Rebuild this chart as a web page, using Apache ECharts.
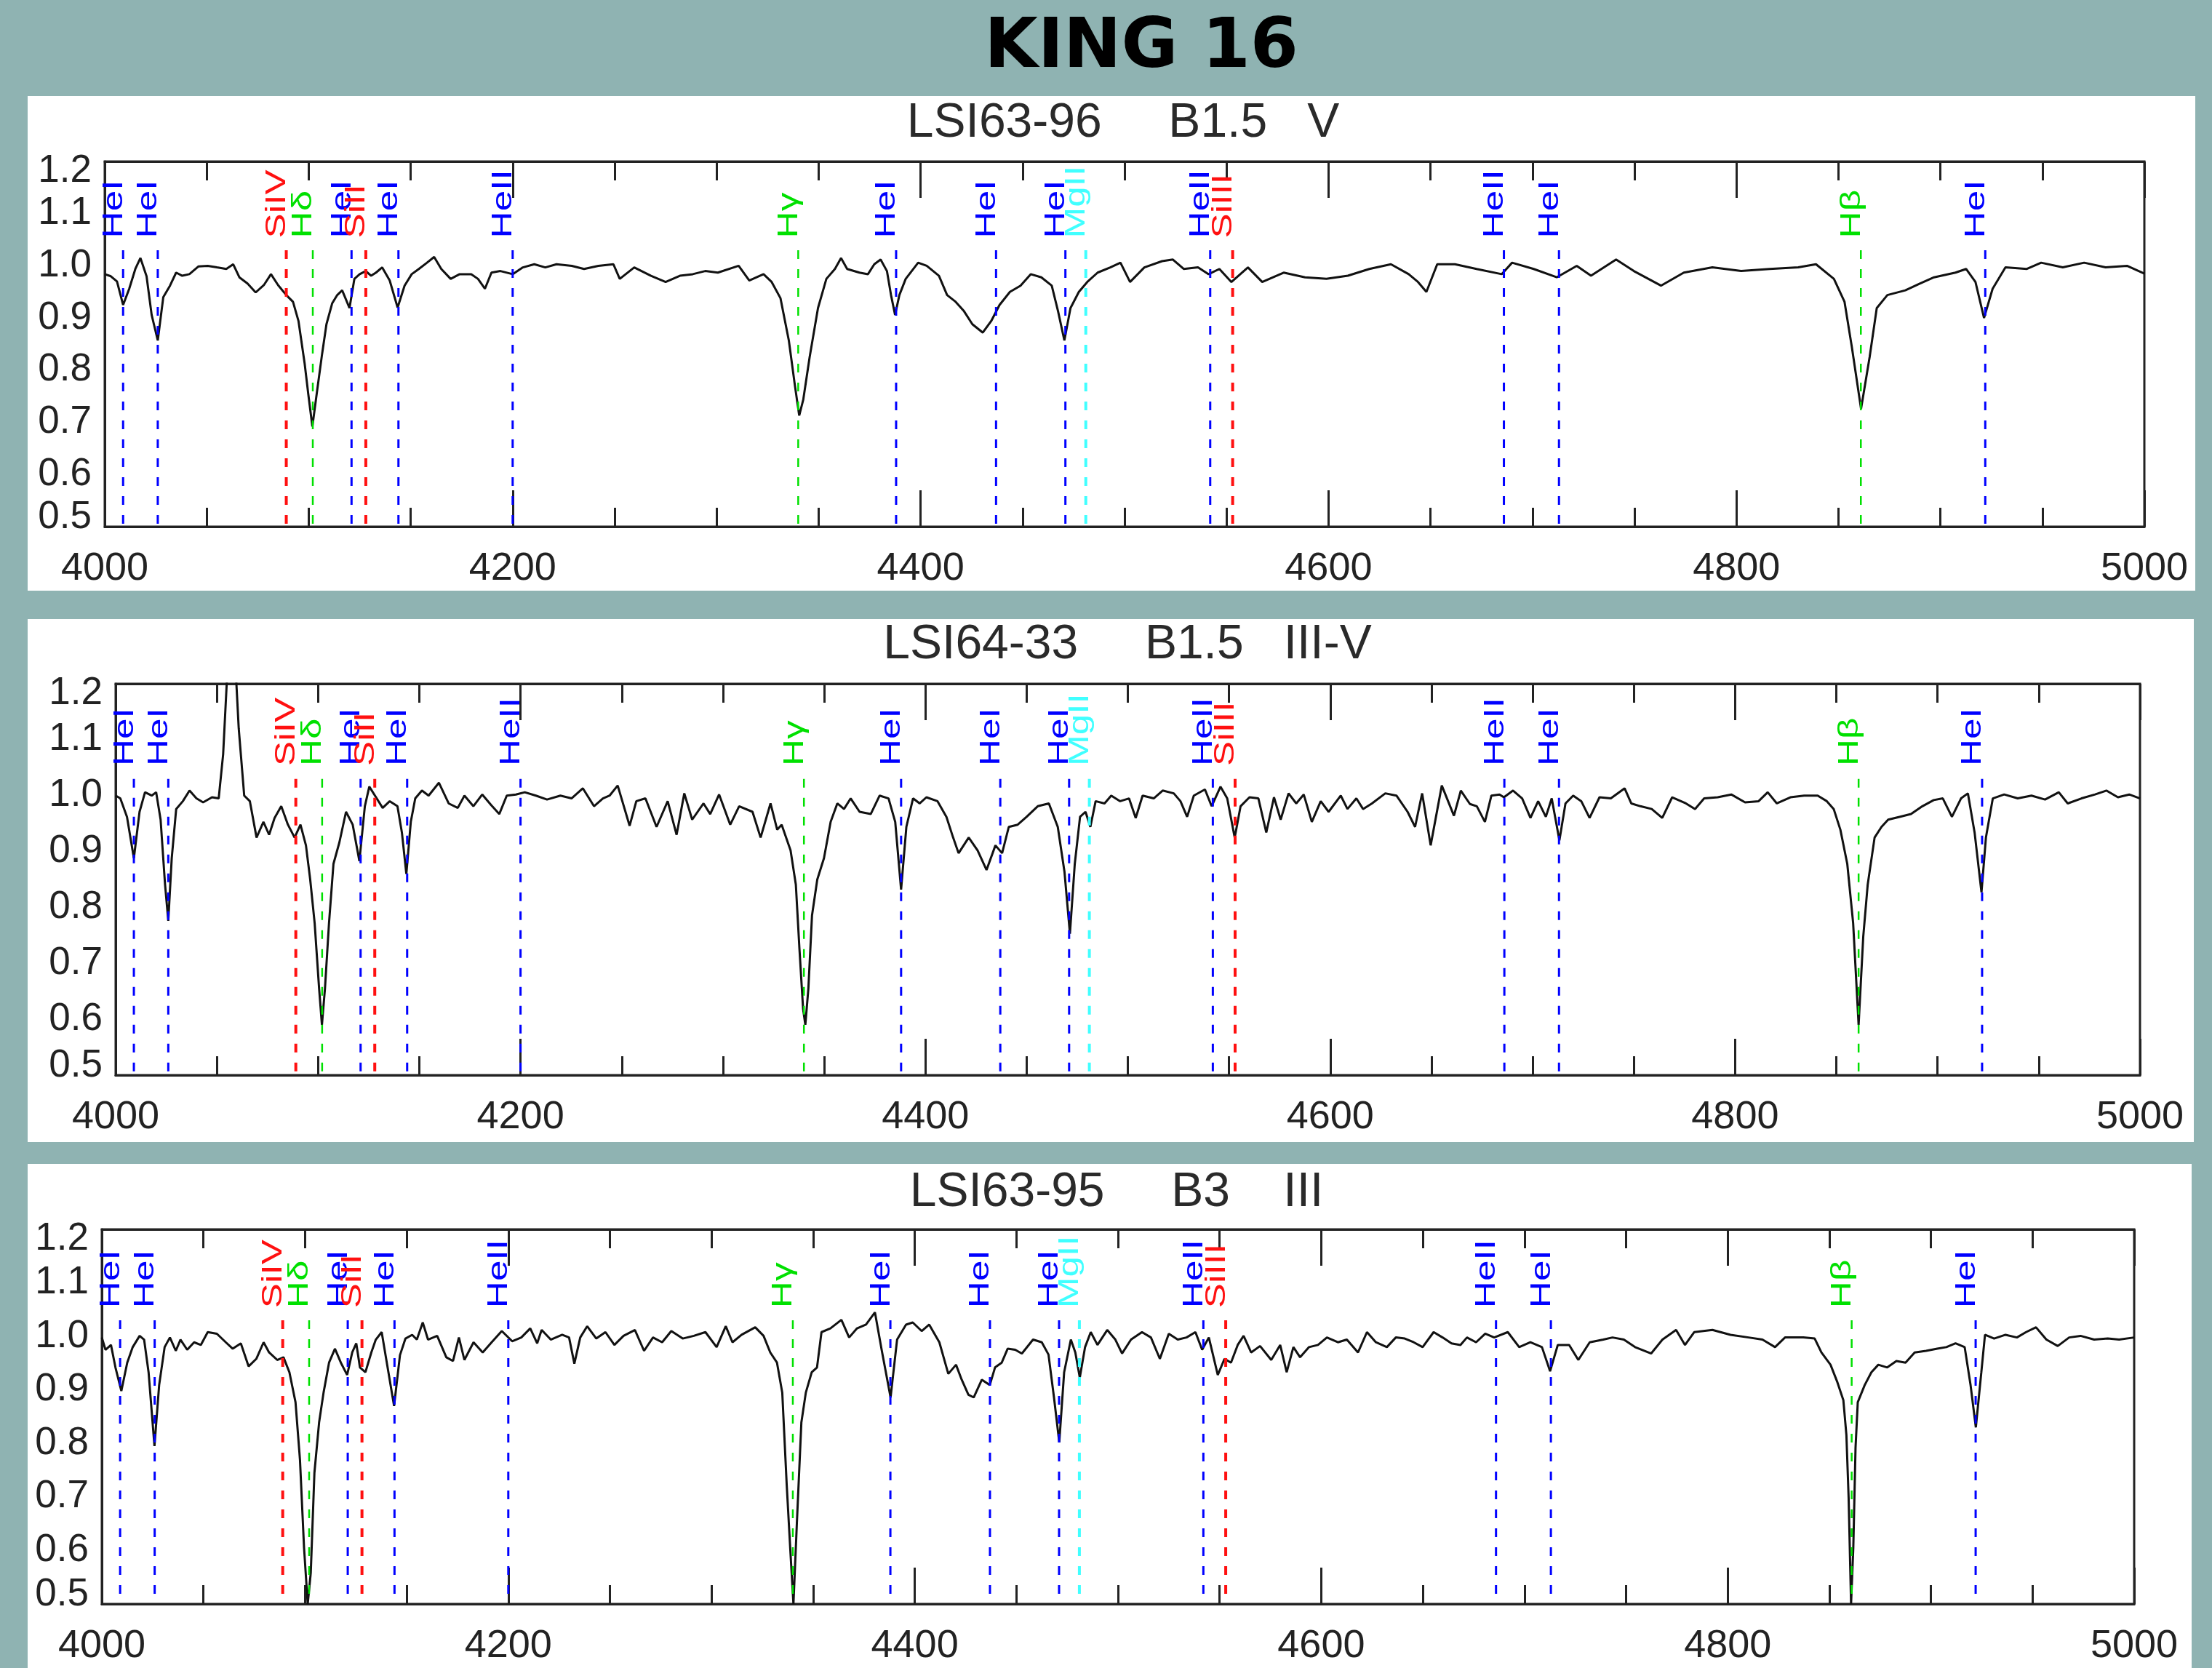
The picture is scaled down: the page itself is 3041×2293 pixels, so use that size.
<!DOCTYPE html>
<html>
<head>
<meta charset="utf-8">
<script src="https://cdn.jsdelivr.net/npm/echarts@6/dist/echarts.min.js"></script>
<style>
  html, body { margin: 0; padding: 0; background: #8fb3b2; }
  #chart { width: 3041px; height: 2293px; }
</style>
</head>
<body>
<div id="chart"></div>
<script>
// ---- data ----
const pageTitle = 'KING 16';
const starTitles = ['LSI63-96     B1.5   V', 'LSI64-33     B1.5   III-V', 'LSI63-95     B3    III'];

const xTickLabels = [4000, 4200, 4400, 4600, 4800, 5000];
const yTickLabels = [0.5, 0.6, 0.7, 0.8, 0.9, 1.0, 1.1, 1.2];

// identified lines (Angstrom)
const lineWaves = [4009, 4026, 4089, 4102, 4121, 4128, 4144, 4200, 4340, 4388, 4437, 4471, 4481, 4542, 4553, 4686, 4713, 4861, 4922];
const lineNames = ['HeI', 'HeI', 'SiIV', 'Hδ', 'HeI', 'SiII', 'HeI', 'HeII', 'Hγ', 'HeI', 'HeI', 'HeI', 'MgII', 'HeII', 'SiIII', 'HeII', 'HeI', 'Hβ', 'HeI'];
const lineKinds = ['he', 'he', 'si', 'h', 'he', 'si', 'he', 'he', 'h', 'he', 'he', 'he', 'mg', 'he', 'si', 'he', 'he', 'h', 'he'];

// normalised spectra [wavelength, flux]
const specLSI6396 = [
  [4000,0.984],[4003,0.98],[4006,0.97],[4009,0.925],[4012,0.956],[4015,0.994],[4017.5,1.015],[4020.5,0.98],[4023,0.906],[4026,0.857],
  [4028.7,0.94],[4032,0.962],[4035,0.987],[4038,0.981],[4041.5,0.984],[4046,0.999],[4050.5,1.0],[4055,0.997],[4059.6,0.994],[4063,1.003],
  [4066,0.978],[4070,0.966],[4074,0.949],[4078,0.963],[4081.5,0.984],[4085,0.963],[4089,0.944],[4092.3,0.931],[4095,0.894],[4098,0.813],
  [4099.7,0.757],[4101.8,0.692],[4104,0.757],[4106.6,0.832],[4108.7,0.888],[4111.5,0.928],[4114,0.944],[4116.4,0.953],[4118,0.938],[4120,0.919],
  [4122.4,0.975],[4125,0.984],[4128,0.99],[4130.6,0.981],[4133,0.987],[4136,0.997],[4139.7,0.972],[4143.6,0.92],[4147,0.962],[4150.5,0.984],
  [4154,0.994],[4158,1.006],[4161.5,1.017],[4165,0.994],[4169.6,0.975],[4174,0.984],[4179.7,0.984],[4183,0.975],[4186.4,0.956],[4189.6,0.987],
  [4194,0.99],[4200,0.984],[4205,0.997],[4210.6,1.003],[4216,0.997],[4221.5,1.003],[4229,1.0],[4235,0.994],[4242,1.0],[4249.4,1.003],
  [4252.5,0.975],[4259.6,0.997],[4267.8,0.981],[4275,0.969],[4282,0.981],[4288.3,0.984],[4294.4,0.99],[4300.6,0.987],[4310.8,1.0],[4316,0.972],
  [4323,0.984],[4327,0.969],[4331.3,0.938],[4335.4,0.857],[4338.4,0.77],[4340.5,0.713],[4342.5,0.744],[4345.6,0.825],[4349.7,0.919],[4353.8,0.975],
  [4358,0.994],[4361,1.015],[4364,0.994],[4370,0.987],[4374.2,0.984],[4377.3,1.003],[4380.4,1.012],[4383.5,0.99],[4385.5,0.944],[4387.5,0.906],
  [4389.6,0.944],[4392.7,0.975],[4398.8,1.006],[4403,1.0],[4409,0.981],[4413,0.944],[4417.2,0.931],[4421.3,0.913],[4425.4,0.888],[4430.5,0.872],
  [4434.6,0.894],[4438.7,0.925],[4443.8,0.95],[4449,0.962],[4454,0.984],[4459.2,0.978],[4464.3,0.962],[4467.4,0.913],[4470.5,0.857],[4473.5,0.919],
  [4477.6,0.95],[4481.7,0.969],[4486.8,0.987],[4493,0.997],[4498,1.006],[4502.7,0.969],[4509.7,0.997],[4518.4,1.009],[4523.7,1.012],[4529,0.994],
  [4536,0.997],[4541.2,0.984],[4546.5,0.994],[4552.4,0.969],[4560.5,0.997],[4567.5,0.969],[4578,0.987],[4588.5,0.978],[4599,0.975],[4609.5,0.981],
  [4620,0.994],[4630.6,1.003],[4639.3,0.984],[4643.9,0.969],[4648,0.95],[4653.3,1.003],[4662,1.003],[4672.6,0.994],[4684.9,0.984],[4690,1.006],
  [4700.6,0.994],[4711.9,0.978],[4721.7,1.0],[4728.7,0.981],[4741,1.012],[4749.7,0.99],[4763,0.962],[4774.2,0.987],[4788.2,0.997],[4802.3,0.99],
  [4816.3,0.994],[4830.3,0.997],[4839,1.003],[4847.8,0.975],[4853,0.931],[4856.6,0.844],[4861.1,0.726],[4865.3,0.825],[4868.8,0.919],[4874,0.944],
  [4882.8,0.953],[4889.9,0.966],[4896.9,0.978],[4907.4,0.987],[4912.6,0.994],[4917.2,0.969],[4921.4,0.9],[4925.6,0.956],[4931.9,0.997],[4942.4,0.994],
  [4949.4,1.006],[4960,0.997],[4970.5,1.006],[4981,0.997],[4991.5,1.0],[5000,0.985]
];

const specLSI6433 = [
  [4000,1.0],[4002.3,0.995],[4005.6,0.962],[4009,0.888],[4011.8,0.971],[4014.5,1.006],[4017.8,1.0],[4020,1.006],[4022.2,0.957],[4024.4,0.841],
  [4026,0.776],[4027.7,0.888],[4029.9,0.976],[4033.2,0.99],[4036.5,1.009],[4039.9,0.995],[4043.2,0.988],[4047.6,0.997],[4050.9,0.995],[4053.1,1.074],
  [4055,1.21],[4057,1.3],[4059.5,1.21],[4060.8,1.12],[4063.5,1.0],[4066.3,0.99],[4069.6,0.925],[4073,0.953],[4075.8,0.93],[4078.5,0.96],
  [4081.8,0.981],[4085.1,0.948],[4088.4,0.925],[4091.3,0.948],[4094,0.911],[4096.1,0.85],[4098.3,0.772],[4100.5,0.655],[4101.9,0.59],[4103.4,0.655],
  [4105.4,0.772],[4107.6,0.878],[4110.5,0.916],[4113.8,0.971],[4117.1,0.948],[4120.4,0.883],[4123.1,0.981],[4125.3,1.016],[4128.1,1.0],[4131.9,0.978],
  [4135.4,0.99],[4139.2,0.981],[4141.4,0.934],[4143.6,0.86],[4145.8,0.953],[4148,0.995],[4151.3,1.009],[4154.6,1.0],[4159.7,1.023],[4164.5,0.986],
  [4169,0.978],[4172.3,1.0],[4176.7,0.981],[4181.1,1.002],[4185.5,0.983],[4189.5,0.967],[4193.2,1.0],[4197.7,1.002],[4202.1,1.006],[4207.6,1.0],
  [4213.1,0.993],[4219.7,1.0],[4225.2,0.995],[4230.8,1.013],[4236.3,0.981],[4240.7,0.995],[4244,1.0],[4248,1.018],[4253.9,0.946],[4257.2,0.99],
  [4261.7,0.995],[4267.2,0.944],[4272.7,0.99],[4277.1,0.93],[4280.9,1.004],[4284.8,0.957],[4290.4,0.986],[4293.7,0.967],[4298.1,1.002],[4303.6,0.948],
  [4308,0.981],[4314.6,0.971],[4318.6,0.925],[4323.5,0.986],[4326.8,0.939],[4329,0.948],[4333.4,0.902],[4336,0.841],[4337.8,0.725],[4339.6,0.618],
  [4340.7,0.59],[4342.2,0.655],[4344,0.786],[4346.6,0.85],[4349.9,0.888],[4353.2,0.953],[4356.5,0.986],[4359.8,0.976],[4363.1,0.995],[4367.5,0.971],
  [4373,0.967],[4377.4,1.0],[4381.8,0.995],[4385.1,0.953],[4388,0.832],[4390.6,0.944],[4393.9,0.995],[4397.2,0.986],[4400.5,0.997],[4406,0.99],
  [4410.4,0.962],[4413.7,0.925],[4416.4,0.897],[4421.4,0.925],[4425.8,0.902],[4430.2,0.867],[4434.6,0.911],[4437.9,0.897],[4441.2,0.944],[4445.6,0.948],
  [4450,0.962],[4455.5,0.981],[4461,0.986],[4465.4,0.944],[4468.7,0.864],[4471.4,0.753],[4473.8,0.878],[4476.4,0.962],[4479.1,0.971],[4481.5,0.944],
  [4484.1,0.99],[4488.5,0.986],[4491.8,1.0],[4496.2,0.99],[4500.6,0.995],[4503.9,0.96],[4507.3,1.0],[4512.8,0.995],[4517.2,1.009],[4522.7,1.004],
  [4526,0.99],[4529.3,0.962],[4532.6,1.0],[4538.1,1.011],[4541.4,0.981],[4545.8,1.016],[4549.1,0.995],[4552.8,0.925],[4555.7,0.981],[4560.1,0.997],
  [4564.5,0.995],[4568.4,0.934],[4572.2,0.997],[4575.5,0.957],[4579.4,1.004],[4583.2,0.986],[4586.9,1.002],[4590.9,0.953],[4595.3,0.99],[4599.2,0.971],
  [4605.2,1.0],[4608.5,0.976],[4612.9,0.995],[4616.2,0.976],[4620.6,0.986],[4627.2,1.004],[4632.7,1.0],[4638.2,0.971],[4641.9,0.944],[4645.4,1.004],
  [4649.6,0.911],[4655.1,1.018],[4661.1,0.964],[4664.5,1.009],[4669,0.985],[4672.4,0.981],[4676.4,0.953],[4679.6,1.0],[4683.6,1.002],[4685.8,0.997],
  [4690.3,1.009],[4694.8,0.995],[4698.9,0.96],[4702.7,0.99],[4706.5,0.962],[4709.4,0.995],[4713.2,0.92],[4716.2,0.986],[4720,1.0],[4724,0.99],
  [4728.1,0.96],[4733,0.997],[4738.6,0.995],[4745.4,1.013],[4748.7,0.986],[4753.2,0.981],[4758.8,0.976],[4764,0.96],[4768.9,0.997],[4775.7,0.986],
  [4780.2,0.976],[4784.7,0.995],[4791.4,0.997],[4798.1,1.002],[4804.9,0.988],[4811.6,0.99],[4816.1,1.006],[4820.6,0.986],[4827.3,0.997],[4834.1,1.0],
  [4840.8,1.0],[4845.3,0.99],[4848.7,0.976],[4852,0.939],[4855.4,0.878],[4858.3,0.772],[4861,0.59],[4863.3,0.748],[4865.5,0.841],[4868.9,0.925],
  [4872.3,0.944],[4875.6,0.957],[4881.2,0.962],[4886.9,0.967],[4892.5,0.981],[4898.1,0.992],[4902.6,0.995],[4907.1,0.962],[4911.6,0.995],[4915,1.004],
  [4918.3,0.934],[4921.7,0.827],[4923.9,0.925],[4927.3,0.995],[4932.9,1.002],[4939.6,0.995],[4946.4,1.0],[4953.1,0.993],[4959.9,1.006],[4964.3,0.986],
  [4971.1,0.995],[4977.8,1.002],[4983.4,1.009],[4989.1,0.997],[4994.7,1.002],[5000,0.995]
];

const specLSI6395 = [
  [4000,0.998],[4001.8,0.975],[4004.5,0.984],[4006.7,0.942],[4009.6,0.898],[4012.5,0.951],[4015.2,0.98],[4018.6,1.001],[4020.8,0.994],[4023,0.933],
  [4025.9,0.795],[4028.2,0.909],[4030.9,0.98],[4033.5,0.998],[4036.4,0.973],[4038.7,0.994],[4042,0.975],[4045.4,0.989],[4048.7,0.984],[4052.1,1.008],
  [4056.6,1.005],[4061,0.989],[4064.4,0.977],[4068.4,0.987],[4072.2,0.944],[4076,0.958],[4079.6,0.989],[4082.3,0.97],[4086.3,0.956],[4089.4,0.961],
  [4092.3,0.933],[4095.3,0.877],[4097.5,0.769],[4099.5,0.605],[4101.3,0.5],[4102.8,0.558],[4104.6,0.745],[4106.9,0.839],[4109.1,0.895],[4111.8,0.951],
  [4114.7,0.977],[4117.6,0.951],[4120.7,0.928],[4123.2,0.97],[4125.2,0.987],[4127,0.942],[4129.7,0.933],[4132.6,0.97],[4134.8,0.994],[4137.7,1.008],
  [4140.4,0.947],[4143.8,0.87],[4146.7,0.965],[4149.4,0.996],[4152.7,1.003],[4155,0.994],[4157.9,1.026],[4160.5,0.994],[4165,1.001],[4169.5,0.961],
  [4172.8,0.954],[4175.7,0.998],[4178.4,0.956],[4182.9,0.989],[4187.4,0.97],[4191.8,0.989],[4196.8,1.01],[4201.9,0.991],[4206.4,0.998],[4210.8,1.015],
  [4214.2,0.987],[4216.4,1.012],[4220.9,0.994],[4226.5,1.003],[4229.9,0.998],[4232.5,0.949],[4235.4,0.998],[4238.8,1.019],[4243.3,0.996],[4247.8,1.008],
  [4252.2,0.984],[4256.7,1.001],[4262.3,1.012],[4266.8,0.973],[4271.2,0.998],[4275.7,0.989],[4280.2,1.01],[4285.8,0.996],[4291.3,1.001],[4297,1.008],
  [4302.5,0.98],[4307,1.019],[4310.3,0.989],[4314.8,1.003],[4321.5,1.017],[4325.6,1.001],[4328.9,0.97],[4332.2,0.951],[4334.8,0.895],[4337,0.722],
  [4338.7,0.605],[4340.3,0.5],[4342,0.652],[4344.2,0.839],[4346.4,0.895],[4349.3,0.933],[4351.9,0.942],[4354.1,1.008],[4358.5,1.015],[4363.9,1.031],
  [4367.7,0.998],[4371.6,1.015],[4376,1.022],[4380.4,1.045],[4383.7,0.975],[4388.1,0.886],[4391.3,0.994],[4395.7,1.022],[4399,1.026],[4403.4,1.01],
  [4407.1,1.022],[4412.1,0.989],[4416.5,0.93],[4420.3,0.947],[4423.1,0.919],[4426.4,0.891],[4429,0.886],[4433,0.919],[4436.9,0.909],[4439.5,0.942],
  [4442.8,0.951],[4445.7,0.977],[4449.4,0.975],[4452.7,0.968],[4458.2,0.994],[4462.5,0.989],[4465.8,0.966],[4468.5,0.886],[4471.1,0.802],[4473.5,0.933],
  [4476.8,0.994],[4479,0.97],[4481.2,0.923],[4483.8,0.98],[4486.6,1.008],[4489.9,0.984],[4494.7,1.012],[4498.7,0.994],[4502,0.968],[4506.4,0.994],
  [4511.8,1.008],[4516.2,0.998],[4520.6,0.958],[4525,1.005],[4529.4,0.994],[4533.7,0.998],[4538.1,1.008],[4541.4,0.975],[4544.7,0.998],[4549.1,0.928],
  [4552.4,0.958],[4555.6,0.951],[4558.9,0.984],[4561.8,1.001],[4565.5,0.97],[4569.9,0.982],[4575.4,0.956],[4579.8,0.984],[4583,0.933],[4586.3,0.98],
  [4589.6,0.961],[4594,0.98],[4598.4,0.984],[4602.8,0.998],[4608.2,0.989],[4612.6,0.994],[4618.1,0.97],[4622.5,1.008],[4626.9,0.989],[4632.3,0.98],
  [4636.7,0.998],[4641.1,0.996],[4645.5,0.989],[4649.9,0.98],[4655.3,1.008],[4659.7,0.998],[4664.1,0.987],[4668.5,0.984],[4671.7,0.998],[4676.2,0.989],
  [4680.7,1.005],[4685.1,0.998],[4691.8,1.008],[4697.4,0.98],[4702.9,0.989],[4708.6,0.98],[4712.6,0.935],[4716.4,0.984],[4722,0.984],[4726.5,0.956],
  [4732.1,0.989],[4738.8,0.994],[4743.3,0.998],[4748.9,0.994],[4754.4,0.98],[4762.3,0.968],[4767.9,0.994],[4774.6,1.012],[4779,0.984],[4783.5,1.008],
  [4792.5,1.012],[4801.4,1.003],[4810.3,0.998],[4817.1,0.994],[4823.3,0.98],[4828.2,0.998],[4837.2,0.998],[4842.8,0.996],[4846.1,0.97],[4850.6,0.947],
  [4854,0.914],[4856.9,0.881],[4858.4,0.816],[4859.5,0.699],[4860.7,0.5],[4861.8,0.605],[4862.9,0.792],[4864,0.877],[4867.4,0.909],[4870.7,0.933],
  [4874.1,0.947],[4878.5,0.942],[4883,0.954],[4887.5,0.951],[4892,0.97],[4897.6,0.973],[4903.1,0.977],[4907.6,0.98],[4912.1,0.987],[4916.6,0.98],
  [4919.5,0.909],[4922.1,0.83],[4924.8,0.933],[4926.6,1.003],[4931.1,0.996],[4936.7,1.003],[4942.3,0.998],[4946.8,1.008],[4951.7,1.017],[4956.8,0.994],
  [4962.4,0.982],[4968,0.998],[4973.6,1.001],[4980.3,0.994],[4987,0.996],[4992.6,0.994],[5000,0.998]
];

// ---- layout / style ----
const spectra = [specLSI6396, specLSI6433, specLSI6395];
const panels = [
  { box: [38, 132, 2980, 680], titleAt: [1544, 170], grid: [144, 222, 2804, 502] },
  { box: [38, 851, 2978, 719], titleAt: [1550, 887], grid: [159, 940, 2783, 538] },
  { box: [38, 1600, 2975, 693], titleAt: [1535, 1640], grid: [140, 1690, 2794, 515] }
];
const kindColor = { he: '#0000ff', si: '#ff1010', h: '#00e000', mg: '#40ffff' };
const kindWidth = { he: 3, si: 4, h: 2.5, mg: 4 };
const labelLevel = 1.053;  // where the rotated labels start
const lineTopLevel = 1.03; // where the dashed markers start
const axisColor = '#222';

const chart = echarts.init(document.getElementById('chart'));

function markerItem(params, api) {
  const i = params.dataIndex;
  const kind = lineKinds[i];
  const top = api.coord([api.value(0), lineTopLevel]);
  const bottom = api.coord([api.value(0), yTickLabels[0]]);
  const lab = api.coord([api.value(0), labelLevel]);
  return {
    type: 'group',
    children: [
      {
        type: 'line',
        shape: { x1: top[0], y1: top[1], x2: bottom[0], y2: bottom[1] },
        style: { stroke: kindColor[kind], lineWidth: kindWidth[kind], lineDash: [12, 14] }
      },
      {
        type: 'text',
        x: lab[0] + 7, y: lab[1],
        rotation: Math.PI / 2,
        scaleX: 1.35,
        style: {
          text: lineNames[i], fill: kindColor[kind],
          font: '38px "Liberation Sans"', align: 'left', verticalAlign: 'bottom'
        }
      }
    ]
  };
}

const grids = [], xAxes = [], yAxes = [], series = [], graphics = [];

panels.forEach((p, i) => {
  graphics.push({ type: 'rect', z: -10, shape: { x: p.box[0], y: p.box[1], width: p.box[2], height: p.box[3] }, style: { fill: '#ffffff' } });
  graphics.push({
    type: 'text', x: p.titleAt[0], y: p.titleAt[1], z: 5,
    style: { text: starTitles[i], font: '66px "Liberation Sans"', fill: '#2a2a2a', align: 'center', verticalAlign: 'middle' }
  });

  grids.push({
    left: p.grid[0], top: p.grid[1], width: p.grid[2], height: p.grid[3],
    show: true, borderColor: axisColor, borderWidth: 3, backgroundColor: 'transparent'
  });

  const xBase = {
    type: 'value', gridIndex: i,
    min: xTickLabels[0], max: xTickLabels[xTickLabels.length - 1],
    interval: xTickLabels[1] - xTickLabels[0],
    axisLine: { show: true, onZero: false, lineStyle: { color: axisColor, width: 3 } },
    axisTick: { show: true, inside: true, length: 50, lineStyle: { color: axisColor, width: 3 } },
    minorTick: { show: true, splitNumber: 4, length: 26, lineStyle: { color: axisColor, width: 3 } },
    splitLine: { show: false },
    minorSplitLine: { show: false }
  };
  xAxes.push(Object.assign({}, xBase, {
    position: 'bottom',
    axisLabel: {
      show: true, fontSize: 54, fontFamily: 'Liberation Sans', color: axisColor, margin: 31,
      showMinLabel: true, showMaxLabel: true, hideOverlap: false,
      formatter: v => String(v)
    }
  }));
  xAxes.push(Object.assign({}, xBase, { position: 'top', axisLabel: { show: false } }));

  yAxes.push({
    type: 'value', gridIndex: i,
    min: yTickLabels[0], max: yTickLabels[yTickLabels.length - 1], interval: 0.1,
    axisLine: { show: true, lineStyle: { color: axisColor, width: 3 } },
    axisTick: { show: false },
    splitLine: { show: false },
    axisLabel: {
      fontSize: 53, lineHeight: 26, fontFamily: 'Liberation Sans', color: axisColor, margin: 18,
      showMinLabel: true, showMaxLabel: true, hideOverlap: false,
      formatter: v => v.toFixed(1),
      verticalAlignMinLabel: 'bottom', verticalAlignMaxLabel: 'top'
    }
  });

  series.push({
    type: 'line', xAxisIndex: i * 2, yAxisIndex: i,
    data: spectra[i], showSymbol: false, symbol: 'none', clip: true,
    lineStyle: { color: '#111', width: 3 }, z: 2, silent: true
  });
  series.push({
    type: 'custom', xAxisIndex: i * 2, yAxisIndex: i,
    data: lineWaves.map(w => [w, 1]), encode: { x: 0, y: 1 },
    renderItem: markerItem, clip: false, z: 3, silent: true
  });
});

graphics.push({
  type: 'text', x: 1569, y: 67, z: 5,
  style: { text: pageTitle, font: 'bold 95px "DejaVu Sans"', fill: '#000', align: 'center', verticalAlign: 'middle' }
});

chart.setOption({
  animation: false,
  backgroundColor: '#8fb3b2',
  grid: grids,
  xAxis: xAxes,
  yAxis: yAxes,
  series: series,
  graphic: { elements: graphics }
});
</script>
</body>
</html>
